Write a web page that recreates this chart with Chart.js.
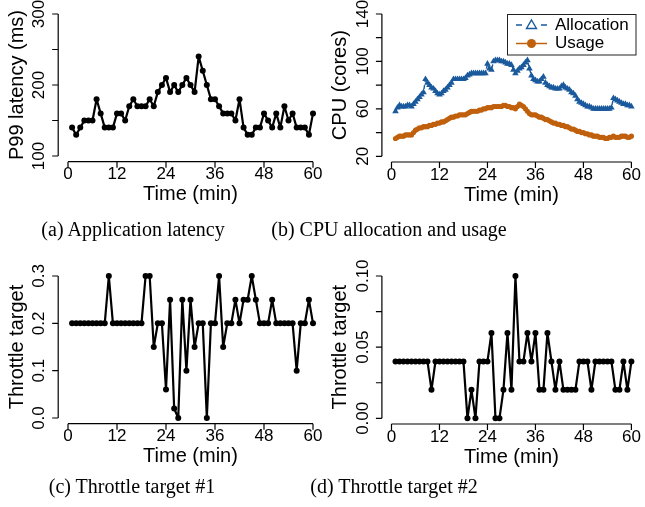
<!DOCTYPE html>
<html>
<head>
<meta charset="utf-8">
<script src="https://cdn.jsdelivr.net/npm/chart.js@4.4.1/dist/chart.umd.min.js"></script>
<style>
  body { margin: 0; background: #fff; }
  #wrap { position: relative; width: 645px; height: 507px; overflow: hidden; }
  canvas { position: absolute; left: 0; top: 0; }
  .cap { position: absolute; font-family: "Liberation Serif", serif; font-size: 20px;
         line-height: 20px; white-space: nowrap; transform: translateX(-50%); color: #000; }
</style>
</head>
<body>
<div id="wrap">
  <canvas id="chartA" width="645" height="507"></canvas>
  <canvas id="chartB" width="645" height="507"></canvas>
  <canvas id="chartC" width="645" height="507"></canvas>
  <canvas id="chartD" width="645" height="507"></canvas>
  <div class="cap" style="left:133px;top:219px">(a) Application latency</div>
  <div class="cap" style="left:389px;top:219px">(b) CPU allocation and usage</div>
  <div class="cap" style="left:132px;top:476px">(c) Throttle target #1</div>
  <div class="cap" style="left:394px;top:476px">(d) Throttle target #2</div>
</div>
<script>
// one sample per minute for (a), (c), (d); two per minute for (b)
var minutes = Array.from({ length: 60 }, function (_, i) { return i + 1; });
var cpuMinutes = Array.from({ length: 119 }, function (_, i) { return 1 + i / 2; });

var latencyMs = [
  140, 130, 140, 150, 150, 150, 180, 160, 140, 140,
  140, 160, 160, 150, 170, 180, 170, 170, 170, 180,
  170, 190, 200, 210, 190, 200, 190, 200, 210, 200,
  190, 240, 220, 200, 180, 180, 170, 160, 160, 160,
  150, 180, 140, 130, 130, 140, 140, 160, 150, 140,
  160, 140, 170, 150, 160, 140, 140, 140, 130, 160
];

var cpuAllocation = [
  58, 61, 63, 62, 62, 62, 63, 63, 62, 64,
  66, 68, 70, 72, 74, 85, 82, 80, 78, 77,
  75, 73, 72, 73, 75, 76, 78, 80, 82, 85,
  85, 85, 85, 85, 85, 86, 88, 89, 90, 90,
  90, 90, 90, 90, 90, 90, 98, 94, 93, 100,
  101, 101, 101, 100, 100, 99, 98, 98, 97, 93,
  90, 92, 94, 95, 97, 99, 101, 94, 88, 85,
  84, 83, 83, 85, 87, 82, 80, 79, 78, 78,
  77, 77, 77, 79, 80, 78, 77, 76, 74, 73,
  71, 68, 66, 65, 64, 63, 62, 62, 61, 60,
  60, 60, 60, 60, 60, 60, 60, 60, 61, 69,
  68, 67, 66, 65, 64, 64, 63, 63, 62
];

var cpuUsage = [
  35, 36, 37, 37, 37, 38, 38, 38, 38, 40,
  42, 43, 44, 44, 45, 45, 45, 46, 46, 47,
  47, 48, 48, 49, 49, 50, 51, 52, 53, 53,
  54, 54, 55, 55, 55, 55, 56, 57, 58, 58,
  58, 58, 59, 59, 60, 60, 61, 61, 61, 62,
  62, 62, 62, 62, 63, 63, 62, 62, 61, 61,
  60, 62, 64, 63, 62, 60, 58, 56, 55, 55,
  55, 54, 53, 53, 52, 51, 51, 50, 49, 48,
  48, 47, 47, 46, 46, 45, 45, 44, 43, 43,
  42, 41, 41, 40, 40, 39, 39, 38, 38, 37,
  37, 37, 36, 36, 36, 35, 35, 36, 36, 37,
  36, 36, 36, 37, 37, 37, 36, 36, 37
];

var throttle1 = [
  0.2, 0.2, 0.2, 0.2, 0.2, 0.2, 0.2, 0.2, 0.2, 0.3,
  0.2, 0.2, 0.2, 0.2, 0.2, 0.2, 0.2, 0.2, 0.3, 0.3,
  0.15, 0.2, 0.2, 0.06, 0.25, 0.02, 0.0, 0.25, 0.1, 0.25,
  0.15, 0.2, 0.2, 0.0, 0.2, 0.2, 0.3, 0.15, 0.2, 0.2,
  0.25, 0.2, 0.25, 0.25, 0.3, 0.25, 0.2, 0.2, 0.2, 0.25,
  0.2, 0.2, 0.2, 0.2, 0.2, 0.1, 0.2, 0.2, 0.25, 0.2
];

var throttle2 = [
  0.04, 0.04, 0.04, 0.04, 0.04, 0.04, 0.04, 0.04, 0.04, 0.02,
  0.04, 0.04, 0.04, 0.04, 0.04, 0.04, 0.04, 0.04, 0.0, 0.02,
  0.0, 0.04, 0.04, 0.04, 0.06, 0.0, 0.0, 0.02, 0.06, 0.02,
  0.1, 0.04, 0.04, 0.06, 0.04, 0.06, 0.02, 0.02, 0.06, 0.04,
  0.02, 0.04, 0.02, 0.02, 0.02, 0.02, 0.04, 0.04, 0.04, 0.02,
  0.04, 0.04, 0.04, 0.04, 0.04, 0.02, 0.02, 0.04, 0.02, 0.04
];

var timeTicks = [0, 12, 24, 36, 48, 60];
var latencyTicks = [100, 150, 200, 250, 300];
var latencyLabels = ['100', '', '200', '', '300'];
var cpuTicks = [20, 40, 60, 80, 100, 120, 140];
var cpuLabels = ['20', '', '60', '', '100', '', '140'];
var t1Ticks = [0, 0.1, 0.2, 0.3];
var t1Labels = ['0.0', '0.1', '0.2', '0.3'];
var t2Ticks = [0, 0.025, 0.05, 0.075, 0.1];
var t2Labels = ['0.00', '', '0.05', '', '0.10'];

var BLUE = '#1a5a9c';
var ORANGE = '#c0600c';
var SANS = '"Liberation Sans", Arial, sans-serif';

function pts(xs, ys) {
  return ys.map(function (v, i) { return { x: xs[i], y: v }; });
}

// R-style detached axes drawn off the chart's own scales
var rAxes = {
  id: 'rAxes',
  afterDraw: function (chart, args, o) {
    var ctx = chart.ctx, xs = chart.scales.x, ys = chart.scales.y, a = chart.chartArea;
    ctx.save();
    ctx.strokeStyle = '#000';
    ctx.fillStyle = '#000';
    ctx.lineWidth = 1.2;

    // x axis
    var x0 = xs.getPixelForValue(o.xTicks[0]);
    var x1 = xs.getPixelForValue(o.xTicks[o.xTicks.length - 1]);
    ctx.beginPath();
    ctx.moveTo(x0, a.bottom); ctx.lineTo(x1, a.bottom);
    o.xTicks.forEach(function (t) {
      var px = xs.getPixelForValue(t);
      ctx.moveTo(px, a.bottom); ctx.lineTo(px, a.bottom + 6);
    });
    // y axis
    var y0 = ys.getPixelForValue(o.yTicks[0]);
    var y1 = ys.getPixelForValue(o.yTicks[o.yTicks.length - 1]);
    ctx.moveTo(a.left, y0); ctx.lineTo(a.left, y1);
    o.yTicks.forEach(function (t) {
      var py = ys.getPixelForValue(t);
      ctx.moveTo(a.left, py); ctx.lineTo(a.left - 6, py);
    });
    ctx.stroke();

    ctx.font = '17px ' + SANS;
    ctx.textAlign = 'center';
    ctx.textBaseline = 'middle';
    o.xTicks.forEach(function (t) {
      ctx.fillText(String(t), xs.getPixelForValue(t), a.bottom + 13);
    });
    o.yTicks.forEach(function (t, i) {
      if (!o.yLabels[i]) return;
      ctx.save();
      ctx.translate(a.left - 19, ys.getPixelForValue(t));
      ctx.rotate(-Math.PI / 2);
      ctx.fillText(o.yLabels[i], 0, 0);
      ctx.restore();
    });

    ctx.font = '20px ' + SANS;
    ctx.fillText(o.xTitle, (x0 + x1) / 2, a.bottom + 33);
    ctx.save();
    ctx.translate(a.left - 41, (a.top + a.bottom) / 2);
    ctx.rotate(-Math.PI / 2);
    ctx.fillText(o.yTitle, 0, 0);
    ctx.restore();
    ctx.restore();
  }
};

var cpuLegend = {
  id: 'cpuLegend',
  afterDraw: function (chart, args, o) {
    if (!o.show) return;
    var ctx = chart.ctx;
    ctx.save();
    ctx.fillStyle = '#fff';
    ctx.fillRect(507, 14, 129, 41);
    ctx.strokeStyle = '#222';
    ctx.lineWidth = 1;
    ctx.strokeRect(507.5, 14.5, 128.5, 40.5);
    // allocation
    ctx.strokeStyle = BLUE;
    ctx.lineWidth = 1.4;
    ctx.beginPath();
    ctx.moveTo(516, 25); ctx.lineTo(522, 25);
    ctx.moveTo(541, 25); ctx.lineTo(547, 25);
    ctx.stroke();
    ctx.beginPath();
    ctx.moveTo(531.5, 20); ctx.lineTo(536.5, 28.5); ctx.lineTo(526.5, 28.5); ctx.closePath();
    ctx.stroke();
    // usage
    ctx.strokeStyle = ORANGE;
    ctx.fillStyle = ORANGE;
    ctx.lineWidth = 1.5;
    ctx.beginPath();
    ctx.moveTo(516, 43.5); ctx.lineTo(547, 43.5);
    ctx.stroke();
    ctx.beginPath();
    ctx.arc(531.5, 43.5, 4.5, 0, Math.PI * 2);
    ctx.fill();
    ctx.fillStyle = '#000';
    ctx.font = '17px ' + SANS;
    ctx.textAlign = 'left';
    ctx.textBaseline = 'middle';
    ctx.fillText('Allocation', 555, 25);
    ctx.fillText('Usage', 555, 43.5);
    ctx.restore();
  }
};

function blackLine(data) {
  return {
    data: data,
    borderColor: '#000',
    backgroundColor: '#000',
    borderWidth: 2.2,
    borderJoinStyle: 'round',
    pointRadius: 3,
    pointBorderWidth: 0,
    pointBackgroundColor: '#000',
    tension: 0
  };
}

function makePanel(id, pad, xMax, yMin, yMax, datasets, axes, legend) {
  return new Chart(document.getElementById(id), {
    type: 'line',
    data: { datasets: datasets },
    options: {
      responsive: false,
      animation: false,
      events: [],
      layout: { padding: pad },
      scales: {
        x: { type: 'linear', display: false, min: -2.4, max: xMax },
        y: { type: 'linear', display: false, min: yMin, max: yMax }
      },
      plugins: {
        legend: { display: false },
        tooltip: { enabled: false },
        rAxes: axes,
        cpuLegend: { show: !!legend }
      }
    },
    plugins: [rAxes, cpuLegend]
  });
}

var chartA = makePanel('chartA',
  { left: 58.2, right: 322.2, top: 8.3, bottom: 345.3 }, 62.4, 92, 308,
  [blackLine(pts(minutes, latencyMs))],
  { xTicks: timeTicks, yTicks: latencyTicks, yLabels: latencyLabels,
    xTitle: 'Time (min)', yTitle: 'P99 latency (ms)' });

var chartB = makePanel('chartB',
  { left: 381.9, right: 0, top: 8.3, bottom: 345 }, 62.4, 15.2, 144.8,
  [{
    data: pts(cpuMinutes, cpuAllocation),
    borderColor: BLUE,
    backgroundColor: BLUE,
    borderWidth: 1.4,
    borderDash: [4, 3],
    borderJoinStyle: 'round',
    pointStyle: 'triangle',
    pointRadius: 3.8,
    pointBorderWidth: 0,
    pointBackgroundColor: BLUE
  }, {
    data: pts(cpuMinutes, cpuUsage),
    borderColor: ORANGE,
    backgroundColor: ORANGE,
    borderWidth: 1.8,
    borderJoinStyle: 'round',
    pointRadius: 2.6,
    pointBorderWidth: 0,
    pointBackgroundColor: ORANGE
  }],
  { xTicks: timeTicks, yTicks: cpuTicks, yLabels: cpuLabels,
    xTitle: 'Time (min)', yTitle: 'CPU (cores)' }, true);

var chartC = makePanel('chartC',
  { left: 58.2, right: 322.2, top: 270.3, bottom: 83.3 }, 62.4, -0.012, 0.312,
  [blackLine(pts(minutes, throttle1))],
  { xTicks: timeTicks, yTicks: t1Ticks, yLabels: t1Labels,
    xTitle: 'Time (min)', yTitle: 'Throttle target' });

var chartD = makePanel('chartD',
  { left: 381.9, right: 0, top: 270.3, bottom: 83 }, 62.4, -0.004, 0.104,
  [blackLine(pts(minutes, throttle2))],
  { xTicks: timeTicks, yTicks: t2Ticks, yLabels: t2Labels,
    xTitle: 'Time (min)', yTitle: 'Throttle target' });
</script>
</body>
</html>
